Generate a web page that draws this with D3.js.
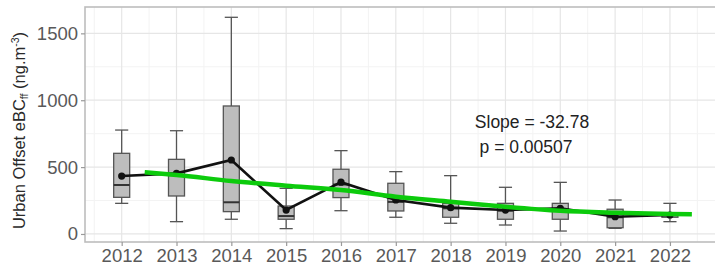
<!DOCTYPE html>
<html>
<head>
<meta charset="utf-8">
<script src="https://cdn.jsdelivr.net/npm/d3@7"></script>
<style>
  body { margin: 0; background: #fff; }
  svg { display: block; font-family: "Liberation Sans", Arial, sans-serif; }
</style>
</head>
<body>
<svg id="chart" width="715" height="266"></svg>
<script>
// yearly box stats (ng.m-3)
const years = [2012, 2013, 2014, 2015, 2016, 2017, 2018, 2019, 2020, 2021, 2022];
const whiskerLow = [229, 92, 110, 40, 174, 125, 80, 67, 22, 42, 92];
const q1 = [274, 284, 167, 110, 272, 172, 125, 110, 110, 47, 125];
const medians = [366, 440, 237, 134, 370, 240, 192, 174, 179, 125, 140];
const q3 = [603, 558, 957, 209, 484, 379, 229, 229, 229, 185, 155];
const whiskerHigh = [777, 772, 1620, 341, 623, 466, 436, 349, 386, 254, 229];
const means = [433, 453, 553, 179, 387, 254, 197, 179, 192, 129, 142];

// smoothed trend (green)
const trendX = [2012.42, 2013, 2014, 2015, 2016, 2017, 2018, 2019, 2020, 2021, 2022, 2022.4];
const trendY = [461, 441, 396, 361, 329, 279, 241, 204, 174, 159, 149, 147];

const yTicks = [0, 500, 1000, 1500];
const yMinor = [250, 750, 1250];
const annotation = ["Slope = -32.78", "p = 0.00507"];

const svg = d3.select("#chart");
const panel = { left: 85, top: 7, right: 720, bottom: 242 };

const x = d3.scaleLinear().domain([2011.331, 2022.913]).range([panel.left, panel.right]);
const y = d3.scaleLinear().domain([-60, 1697]).range([panel.bottom, panel.top]);

//Grid lines
const grid = svg.append("g");
const xMinor = years.map((d) => d + 0.5).concat([2011.5]);
grid.selectAll(".xminor").data(xMinor).join("line")
  .attr("x1", (d) => x(d)).attr("x2", (d) => x(d))
  .attr("y1", panel.top).attr("y2", panel.bottom)
  .attr("stroke", "#f3f3f3").attr("stroke-width", 1);
grid.selectAll(".yminor").data(yMinor).join("line")
  .attr("x1", panel.left).attr("x2", panel.right)
  .attr("y1", (d) => y(d)).attr("y2", (d) => y(d))
  .attr("stroke", "#f3f3f3").attr("stroke-width", 1);
grid.selectAll(".xmajor").data(years).join("line")
  .attr("x1", (d) => x(d)).attr("x2", (d) => x(d))
  .attr("y1", panel.top).attr("y2", panel.bottom)
  .attr("stroke", "#e6e6e6").attr("stroke-width", 1.2);
grid.selectAll(".ymajor").data(yTicks).join("line")
  .attr("x1", panel.left).attr("x2", panel.right)
  .attr("y1", (d) => y(d)).attr("y2", (d) => y(d))
  .attr("stroke", "#e6e6e6").attr("stroke-width", 1.2);

//Panel border
svg.append("rect")
  .attr("x", panel.left).attr("y", panel.top)
  .attr("width", panel.right - panel.left).attr("height", panel.bottom - panel.top)
  .attr("fill", "none").attr("stroke", "#bdbdbd").attr("stroke-width", 1.6);

//Axes
const xAxis = svg.append("g")
  .attr("transform", "translate(0," + panel.bottom + ")")
  .call(d3.axisBottom(x).tickValues(years).tickFormat(d3.format("d")).tickSize(4).tickPadding(3));
const yAxis = svg.append("g")
  .attr("transform", "translate(" + panel.left + ",0)")
  .call(d3.axisLeft(y).tickValues(yTicks).tickFormat(d3.format("d")).tickSize(4).tickPadding(3));
[xAxis, yAxis].forEach((ax) => {
  ax.select(".domain").remove();
  ax.selectAll(".tick line").attr("stroke", "#9a9a9a").attr("stroke-width", 1.2);
  ax.selectAll(".tick text").attr("fill", "#595959").attr("font-size", "18.5px")
    .attr("font-family", "Liberation Sans, Arial, sans-serif");
});

//Y axis title
const title = svg.append("text")
  .attr("transform", "translate(25," + ((panel.top + panel.bottom) / 2 + 6) + ") rotate(-90)")
  .attr("text-anchor", "middle").attr("fill", "#2a2a2a").attr("font-size", "16.5px");
title.append("tspan").text("Urban Offset eBC");
title.append("tspan").attr("font-size", "10.5px").attr("dy", 3).text("ff");
title.append("tspan").attr("dy", -3).text(" (ng.m");
title.append("tspan").attr("font-size", "10.5px").attr("dy", -6).text("-3");
title.append("tspan").attr("dy", 6).text(")");

//Box plots
const boxHalf = 0.146;
const capHalf = 0.12;
const boxes = svg.append("g").selectAll("g").data(years).join("g");
boxes.append("line")
  .attr("x1", (d) => x(d)).attr("x2", (d) => x(d))
  .attr("y1", (d, i) => y(whiskerLow[i])).attr("y2", (d, i) => y(whiskerHigh[i]))
  .attr("stroke", "#555").attr("stroke-width", 1.3);
["low", "high"].forEach((k) => {
  boxes.append("line")
    .attr("x1", (d) => x(d - capHalf)).attr("x2", (d) => x(d + capHalf))
    .attr("y1", (d, i) => y(k === "low" ? whiskerLow[i] : whiskerHigh[i]))
    .attr("y2", (d, i) => y(k === "low" ? whiskerLow[i] : whiskerHigh[i]))
    .attr("stroke", "#555").attr("stroke-width", 1.3);
});
boxes.append("rect")
  .attr("x", (d) => x(d - boxHalf)).attr("width", (d) => x(d + boxHalf) - x(d - boxHalf))
  .attr("y", (d, i) => y(q3[i])).attr("height", (d, i) => y(q1[i]) - y(q3[i]))
  .attr("fill", "#bdbdbd").attr("stroke", "#555").attr("stroke-width", 1.3);
boxes.append("line")
  .attr("x1", (d) => x(d - boxHalf)).attr("x2", (d) => x(d + boxHalf))
  .attr("y1", (d, i) => y(medians[i])).attr("y2", (d, i) => y(medians[i]))
  .attr("stroke", "#333").attr("stroke-width", 2);

//Mean line and points
svg.append("path")
  .datum(years)
  .attr("fill", "none").attr("stroke", "#111").attr("stroke-width", 2.6)
  .attr("d", d3.line().x((d) => x(d)).y((d, i) => y(means[i])));
svg.append("g").selectAll("circle").data(years).join("circle")
  .attr("cx", (d) => x(d)).attr("cy", (d, i) => y(means[i]))
  .attr("r", 3.6).attr("fill", "#111");

//Trend line
svg.append("path")
  .datum(trendX)
  .attr("fill", "none").attr("stroke", "#0ccb0c").attr("stroke-width", 4.5)
  .attr("d", d3.line().curve(d3.curveMonotoneX).x((d) => x(d)).y((d, i) => y(trendY[i])));

//Annotation
svg.append("text")
  .attr("x", 532).attr("y", 128).attr("text-anchor", "middle")
  .attr("fill", "#222").attr("font-size", "17.5px").text(annotation[0]);
svg.append("text")
  .attr("x", 526).attr("y", 153).attr("text-anchor", "middle")
  .attr("fill", "#222").attr("font-size", "17.5px").text(annotation[1]);
</script>
</body>
</html>
